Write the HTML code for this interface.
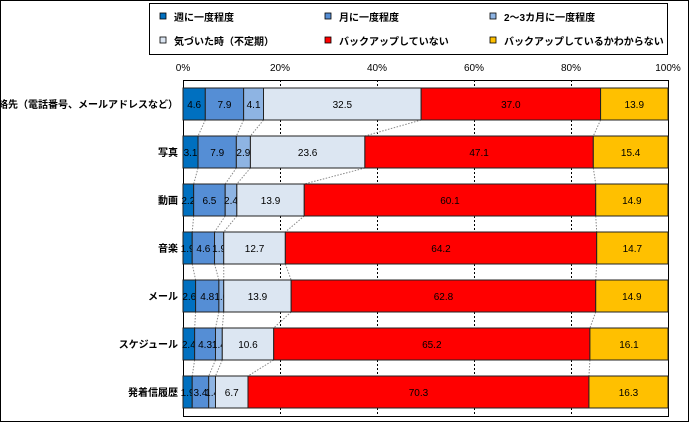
<!DOCTYPE html>
<html><head><meta charset="utf-8"><style>
body{margin:0;background:#fff;}
svg{display:block;font-family:"Liberation Sans","Noto Sans CJK JP",sans-serif;}
</style></head><body>
<svg id="c" width="689" height="422" xmlns="http://www.w3.org/2000/svg">
<rect x="0.5" y="0.5" width="688" height="421" fill="#fff" stroke="#000"/>
<g id="legend">
<rect x="149.5" y="3.5" width="518" height="51" fill="#fff" stroke="#000"/>
</g>
<g id="axis"></g>
<g id="plot"></g>
</svg>
<script>
const categories=["連絡先（電話番号、メールアドレスなど）","写真","動画","音楽","メール","スケジュール","発着信履歴"];
const seriesNames=["週に一度程度","月に一度程度","2～3カ月に一度程度","気づいた時（不定期）","バックアップしていない","バックアップしているかわからない"];
const weekly=[4.6,3.1,2.2,1.9,2.6,2.4,1.9];
const monthly=[7.9,7.9,6.5,4.6,4.8,4.3,3.4];
const quarterly=[4.1,2.9,2.4,1.9,1.0,1.4,1.4];
const whenNoticed=[32.5,23.6,13.9,12.7,13.9,10.6,6.7];
const noBackup=[37.0,47.1,60.1,64.2,62.8,65.2,70.3];
const unknown=[13.9,15.4,14.9,14.7,14.9,16.1,16.3];
const tickLabels=["0%","20%","40%","60%","80%","100%"];
const tickValues=[0,20,40,60,80,100];
const series=[weekly,monthly,quarterly,whenNoticed,noBackup,unknown];
const colors=["#0070c0","#558ed5","#8eb4e3","#dce6f2","#ff0000","#ffc000"];
const ns="http://www.w3.org/2000/svg";
const X0=183,X1=668,T=80,B=416,BAR_TOP=88,PITCH=48,BH=32;
const x=v=>X0+(X1-X0)*v/100;
const yTop=i=>BAR_TOP+PITCH*i;
function mk(tag,attrs,parent){const e=document.createElementNS(ns,tag);for(const k in attrs)e.setAttribute(k,attrs[k]);parent.appendChild(e);return e;}
const legend=document.getElementById('legend'),axis=document.getElementById('axis'),plot=document.getElementById('plot');
// legend
const lx=[160,325,490],ly=[18,42];
seriesNames.forEach((n,i)=>{
  const g=mk('g',{},legend);
  
  
  const r=mk('rect',{x:lx[i%3],y:ly[Math.floor(i/3)]-5,width:6,height:6,fill:colors[i],stroke:'#000','stroke-width':0.8},g);
  
  
  const t=mk('text',{x:lx[i%3]+14,y:ly[Math.floor(i/3)]+3,'font-size':10,'font-weight':'bold',fill:'#000'},g);
  
  
  t.textContent=n;
});
// axis
mk('rect',{x:X0+0.5,y:T+0.5,width:X1-X0,height:B-T,fill:'none',stroke:'#000','stroke-width':1},axis);
tickValues.forEach((v,i)=>{
  const t=mk('text',{x:x(v),y:71,'font-size':10,'text-anchor':'middle',fill:'#000'},axis);
  
  
  t.textContent=tickLabels[i];
  if(v>0&&v<100){
    const l=mk('line',{x1:x(v)+0.5,x2:x(v)+0.5,y1:T,y2:B,stroke:'#000','stroke-dasharray':'2,2','stroke-width':1},axis);
    
    
  }
});
// connectors
for(let i=0;i<categories.length-1;i++){
  let a=0,b=0;
  for(let s=0;s<series.length-1;s++){
    a+=series[s][i];b+=series[s][i+1];
    const l=mk('line',{x1:x(a),y1:yTop(i)+BH,x2:x(b),y2:yTop(i+1),stroke:'#888','stroke-dasharray':'1.5,1.5','stroke-width':1},plot);
    
    
  }
}
// bars
categories.forEach((c,i)=>{
  const y=yTop(i);
  const lab=mk('text',{x:X0-5,y:y+BH/2+4,'font-size':10,'font-weight':'bold','text-anchor':'end',fill:'#000'},plot);
  
  
  lab.textContent=c;
  let acc=0;
  series.forEach((s,k)=>{
    const v=s[i];
    const r=mk('rect',{x:x(acc),y:y,width:x(acc+v)-x(acc),height:BH,fill:colors[k],stroke:'#222','stroke-width':1},plot);
    
    
    const t=mk('text',{x:(x(acc)+x(acc+v))/2,y:y+BH/2+4,'font-size':10,'text-anchor':'middle',fill:'#000'},plot);
    
    
    t.textContent=v.toFixed(1);
    acc+=v;
  });
});
</script>
</body></html>
